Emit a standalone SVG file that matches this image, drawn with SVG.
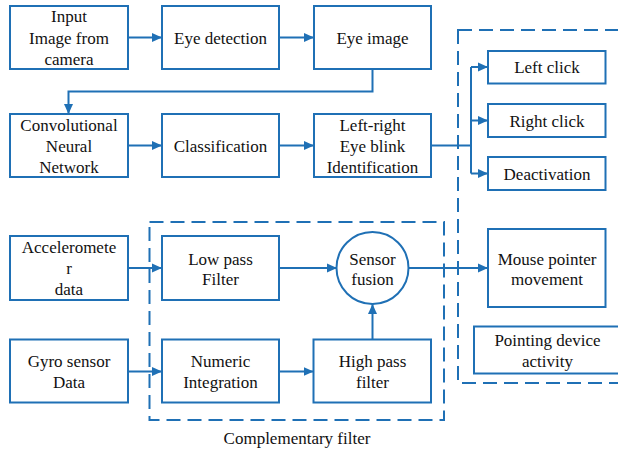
<svg xmlns="http://www.w3.org/2000/svg" width="618" height="453" viewBox="0 0 618 453" font-family="'Liberation Serif', 'DejaVu Serif', serif">
<defs>
<marker id="ah" viewBox="0 0 10 10" refX="10" refY="5" markerWidth="10" markerHeight="10" markerUnits="userSpaceOnUse" orient="auto">
<path d="M0,0.5 L10,5 L0,9.5 Z" fill="#1f70b5"/>
</marker>
<style>
.b{fill:#fff;stroke:#1f70b5;stroke-width:2}
.d{fill:none;stroke:#1f70b5;stroke-width:2;stroke-dasharray:14 7}
.c{fill:none;stroke:#1f70b5;stroke-width:2}
.a{marker-end:url(#ah)}
text{font-family:'Liberation Serif','DejaVu Serif',serif;font-size:17px;fill:#111;text-anchor:middle}
</style>
</defs>
<rect width="618" height="453" fill="#fff"/>
<g id="groups">
<rect class="d" x="458" y="30" width="200" height="353"/>
<rect class="d" x="149.5" y="222" width="294.5" height="198"/>
<text x="297" y="444">Complementary filter</text>
</g>
<g id="connectors">
<line class="c a" x1="128" y1="37.5" x2="162" y2="37.5"/>
<line class="c a" x1="279" y1="37.5" x2="314" y2="37.5"/>
<path class="c a" d="M372.5,69 V91.5 H68.5 V114"/>
<line class="c a" x1="128" y1="145.5" x2="162" y2="145.5"/>
<line class="c a" x1="279" y1="145.5" x2="314" y2="145.5"/>
<path class="c" d="M431,145.5 H471 M471,67 V173.5"/>
<line class="c a" x1="471" y1="67" x2="488" y2="67"/>
<line class="c a" x1="471" y1="120.5" x2="488" y2="120.5"/>
<line class="c a" x1="471" y1="173.5" x2="488" y2="173.5"/>
<line class="c a" x1="128" y1="268" x2="162" y2="268"/>
<line class="c a" x1="279" y1="268" x2="337" y2="268"/>
<line class="c a" x1="408.5" y1="268" x2="488" y2="268"/>
<line class="c a" x1="128" y1="371.5" x2="162" y2="371.5"/>
<line class="c a" x1="279" y1="371.5" x2="313.5" y2="371.5"/>
<line class="c a" x1="372.5" y1="339.5" x2="372.5" y2="304"/>
</g>
<g id="input"><rect class="b" x="10" y="6" width="118" height="63"/><text x="69" y="22">Input</text><text x="69" y="44">Image from</text><text x="69" y="65">camera</text></g>
<g id="eyedet"><rect class="b" x="162" y="6" width="117" height="63"/><text x="220.5" y="43.5">Eye detection</text></g>
<g id="eyeimg"><rect class="b" x="314" y="6" width="117" height="63"/><text x="372.5" y="43.5">Eye image</text></g>
<g id="cnn"><rect class="b" x="10" y="114" width="118" height="63"/><text x="69" y="131">Convolutional</text><text x="69" y="152">Neural</text><text x="69" y="173">Network</text></g>
<g id="class"><rect class="b" x="162" y="114" width="117" height="63"/><text x="220.5" y="151.5">Classification</text></g>
<g id="blink"><rect class="b" x="314" y="114" width="117" height="63"/><text x="372.5" y="131">Left-right</text><text x="372.5" y="152">Eye blink</text><text x="372.5" y="173">Identification</text></g>
<g id="leftclick"><rect class="b" x="488" y="51" width="117.5" height="32.5"/><text x="547" y="73">Left click</text></g>
<g id="rightclick"><rect class="b" x="488" y="104" width="117.5" height="33"/><text x="547" y="126.5">Right click</text></g>
<g id="deact"><rect class="b" x="488" y="157" width="117.5" height="33"/><text x="547" y="179.5">Deactivation</text></g>
<g id="accel"><rect class="b" x="10" y="236" width="118" height="64"/><text x="69" y="253">Acceleromete</text><text x="69" y="274">r</text><text x="69" y="295">data</text></g>
<g id="lowpass"><rect class="b" x="162" y="236" width="117" height="64"/><text x="220.5" y="265">Low pass</text><text x="220.5" y="285">Filter</text></g>
<g id="gyro"><rect class="b" x="10" y="339.5" width="118" height="63"/><text x="69" y="367">Gyro sensor</text><text x="69" y="388">Data</text></g>
<g id="numeric"><rect class="b" x="162" y="339.5" width="117" height="63"/><text x="220.5" y="367">Numeric</text><text x="220.5" y="388">Integration</text></g>
<g id="highpass"><rect class="b" x="313.5" y="339.5" width="117.5" height="63"/><text x="372.5" y="367">High pass</text><text x="372.5" y="388">filter</text></g>
<g id="fusion"><circle class="b" cx="372.5" cy="268" r="36"/><text x="372.5" y="265">Sensor</text><text x="372.5" y="285">fusion</text></g>
<g id="mouse"><rect class="b" x="488" y="229" width="117.5" height="78"/><text x="547" y="265">Mouse pointer</text><text x="547" y="285">movement</text></g>
<g id="pointing"><rect class="b" x="474" y="326.5" width="200" height="47"/><text x="547.5" y="346">Pointing device</text><text x="547.5" y="367">activity</text></g>
</svg>
